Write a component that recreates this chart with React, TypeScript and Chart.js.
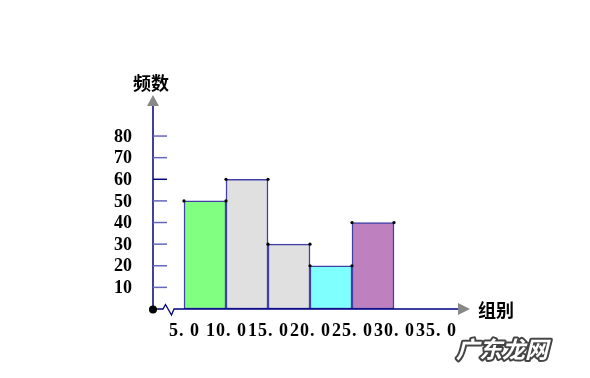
import React, { useEffect, useRef } from "react";
import { Chart, registerables } from "chart.js";

Chart.register(...registerables);

// ---- data ----
const binEdges = [5, 10, 15, 20, 25, 30];
const frequencies = [50, 60, 30, 20, 40];
const barColors = ["#80ff80", "#e0e0e0", "#e0e0e0", "#80ffff", "#bf80bf"];
const yTickValues = [10, 20, 30, 40, 50, 60, 70, 80];
const xTickValues = [5, 10, 15, 20, 25, 30, 35];
const xTickLabels = ["5. 0", "10. 0", "15. 0", "20. 0", "25. 0", "30. 0", "35. 0"];
const yTitle = "频数";
const xTitle = "组别";
const watermark = "广东龙网";

const LABEL_FONT = "bold 18px 'Liberation Serif', 'Noto Sans CJK SC', serif";
const TITLE_FONT = "bold 18px 'Noto Sans CJK SC', sans-serif";

const axesPlugin = {
  id: "customAxes",
  afterDatasetsDraw(chart: any) {
    const ctx = chart.ctx;
    const xs = chart.scales.x;
    const ys = chart.scales.y;
    const ca = chart.chartArea;
    const ox = ca.left;
    const oy = ys.getPixelForValue(0);
    ctx.save();

    // bar corner dots
    const meta = chart.getDatasetMeta(0);
    ctx.fillStyle = "#000";
    meta.data.forEach((bar: any) => {
      const props = bar.getProps(["x", "y", "width"], true);
      [props.x - props.width / 2, props.x + props.width / 2].forEach((px) => {
        ctx.beginPath();
        ctx.arc(px, props.y, 1.6, 0, Math.PI * 2);
        ctx.fill();
      });
    });

    // y axis
    ctx.strokeStyle = "#000080";
    ctx.lineWidth = 1.5;
    ctx.beginPath();
    ctx.moveTo(ox, oy);
    ctx.lineTo(ox, ca.top);
    ctx.stroke();
    // y arrow
    ctx.fillStyle = "#888888";
    ctx.beginPath();
    ctx.moveTo(ox, ca.top - 11);
    ctx.lineTo(ox - 6, ca.top);
    ctx.lineTo(ox + 6, ca.top);
    ctx.closePath();
    ctx.fill();

    // y ticks and labels
    ctx.font = LABEL_FONT;
    ctx.textAlign = "right";
    ctx.textBaseline = "middle";
    yTickValues.forEach((v) => {
      const py = ys.getPixelForValue(v);
      ctx.strokeStyle = v === 60 ? "#000080" : "#6666bb";
      ctx.lineWidth = 1.5;
      ctx.beginPath();
      ctx.moveTo(ox, py);
      ctx.lineTo(ox + 14, py);
      ctx.stroke();
      ctx.fillStyle = "#000";
      ctx.fillText(String(v), ox - 21, py + 1);
    });

    // x axis with break zigzag
    ctx.strokeStyle = "#000080";
    ctx.lineWidth = 1.3;
    ctx.beginPath();
    ctx.moveTo(ox, oy);
    ctx.lineTo(ox + 10, oy);
    ctx.lineTo(ox + 12.5, oy - 4.5);
    ctx.lineTo(ox + 18.5, oy + 6);
    ctx.lineTo(ox + 21, oy);
    ctx.lineTo(ca.right, oy);
    ctx.stroke();
    // x arrow
    ctx.fillStyle = "#888888";
    ctx.beginPath();
    ctx.moveTo(ca.right + 12, oy);
    ctx.lineTo(ca.right, oy - 6);
    ctx.lineTo(ca.right, oy + 6);
    ctx.closePath();
    ctx.fill();

    // origin dot
    ctx.fillStyle = "#000";
    ctx.beginPath();
    ctx.arc(ox, oy + 0.5, 4, 0, Math.PI * 2);
    ctx.fill();

    // x labels
    ctx.font = LABEL_FONT;
    ctx.textAlign = "center";
    ctx.textBaseline = "middle";
    ctx.fillStyle = "#000";
    try { (ctx as any).letterSpacing = "1px"; } catch (e) {}
    xTickValues.forEach((v, i) => {
      const px = xs.getPixelForValue(v);
      ctx.fillText(xTickLabels[i], px + 0.5, oy + 22);
    });
    try { (ctx as any).letterSpacing = "0px"; } catch (e) {}

    // titles
    ctx.font = TITLE_FONT;
    ctx.textAlign = "center";
    ctx.fillText(yTitle, ox - 2, ca.top - 23);
    ctx.textAlign = "left";
    ctx.fillText(xTitle, ca.right + 20, oy + 1);

    // watermark
    ctx.font = "italic bold 23px 'Noto Sans CJK SC', sans-serif";
    ctx.textAlign = "left";
    ctx.lineJoin = "round";
    ctx.lineWidth = 4;
    ctx.strokeStyle = "#444";
    ctx.strokeText(watermark, 456, 349);
    ctx.fillStyle = "#fff";
    ctx.fillText(watermark, 456, 349);

    ctx.restore();
  },
};

export default function App() {
  const ref = useRef<HTMLCanvasElement>(null);
  useEffect(() => {
    if (!ref.current) return;
    const data = frequencies.map((f, i) => ({ x: (binEdges[i] + binEdges[i + 1]) / 2, y: f }));
    const chart = new Chart(ref.current, {
      type: "bar",
      data: {
        datasets: [
          {
            data: data as any,
            backgroundColor: barColors,
            borderColor: "#4040a8",
            borderWidth: 1.5,
            borderSkipped: false,
            barPercentage: 1,
            categoryPercentage: 1,
          },
        ],
      },
      options: {
        responsive: false,
        animation: false,
        layout: { padding: { left: 153, right: 132, top: 106, bottom: 69 } },
        plugins: { legend: { display: false }, tooltip: { enabled: false } },
        scales: {
          x: { type: "linear", min: 1.31, max: 37.62, offset: false, display: false, grid: { display: false } },
          y: { type: "linear", min: 0, max: 93.9, display: false, grid: { display: false } },
        },
      },
      plugins: [axesPlugin],
    });
    return () => chart.destroy();
  }, []);
  return (
    <div style={{ position: "fixed", left: 0, top: 0, width: 590, height: 378, background: "#fff" }}>
      <canvas ref={ref} width={590} height={378} />
    </div>
  );
}
